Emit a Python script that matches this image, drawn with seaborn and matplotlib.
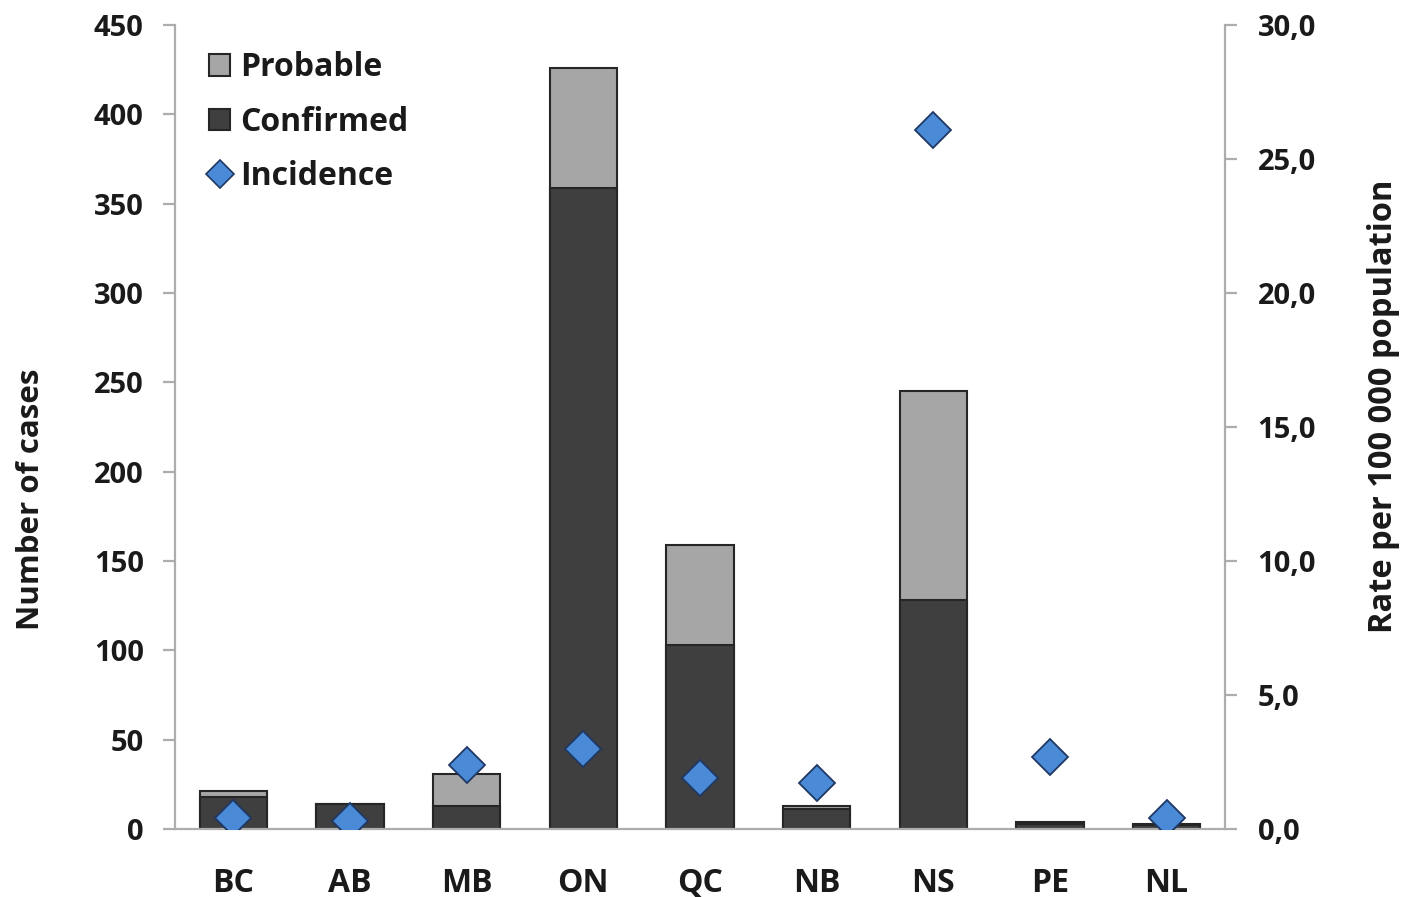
import matplotlib
matplotlib.use("Agg")
import matplotlib.pyplot as plt
import seaborn as sns
import numpy as np
import pandas as pd
from matplotlib.patches import Patch
from matplotlib.lines import Line2D
from matplotlib.ticker import FuncFormatter, FixedLocator

provinces = ["BC", "AB", "MB", "ON", "QC", "NB", "NS", "PE", "NL"]
confirmed = [18, 14, 13, 359, 103, 11, 128, 3, 2]
probable = [3, 0, 18, 67, 56, 2, 117, 1, 1]
incidence = [0.4, 0.3, 2.4, 3.0, 1.9, 1.7, 26.1, 2.7, 0.4]
left_ticks = [0, 50, 100, 150, 200, 250, 300, 350, 400, 450]
right_ticks = [0, 5, 10, 15, 20, 25, 30]

total = [c + p for c, p in zip(confirmed, probable)]
df = pd.DataFrame({"province": provinces, "confirmed": confirmed,
                   "total": total, "incidence": incidence})

sns.set_theme(style="white")
plt.rcParams["font.family"] = ["Open Sans", "DejaVu Sans"]
plt.rcParams["font.weight"] = "bold"

C_PROB = "#A6A6A6"
C_CONF = "#3F3F3F"
C_EDGE = "#262626"
C_INC = "#4A8AD6"
C_INC_EDGE = "#1F3864"
C_AXIS = "#ADADAD"
C_TEXT = "#1A1A1A"

fig = plt.figure(figsize=(14.04, 8.97), dpi=100)
ax = fig.add_axes([175/1404, 1-829/897, 1050/1404, 804/897])

sns.barplot(data=df, x="province", y="total", color=C_PROB, width=0.575,
            edgecolor=C_EDGE, linewidth=1.5, saturation=1, ax=ax, errorbar=None)
sns.barplot(data=df, x="province", y="confirmed", color=C_CONF, width=0.575,
            edgecolor=C_EDGE, linewidth=1.5, saturation=1, ax=ax, errorbar=None)

ax.set_ylim(0, 450)
ax.yaxis.set_major_locator(FixedLocator(left_ticks))
ax.set_xlim(-0.5, len(provinces) - 0.5)
ax.set_xlabel("")
ax.set_ylabel("")

ax2 = ax.twinx()
sns.pointplot(data=df, x="province", y="incidence", ax=ax2, color=C_INC,
              markers="D", linestyle="none", markersize=18,
              markeredgecolor=C_INC_EDGE, markeredgewidth=1.3, errorbar=None)
ax2.set_ylim(0, 30)
ax2.yaxis.set_major_locator(FixedLocator(right_ticks))
ax2.yaxis.set_major_formatter(FuncFormatter(lambda v, p: f"{v:.1f}".replace(".", ",")))
ax2.set_xlim(-0.5, len(provinces) - 0.5)
ax2.set_ylabel("")
ax2.set_xlabel("")

for a in (ax, ax2):
    for s in a.spines.values():
        s.set_visible(False)
    a.grid(False)

ax.spines["left"].set_visible(True)
ax.spines["bottom"].set_visible(True)
ax2.spines["right"].set_visible(True)
for s in (ax.spines["left"], ax.spines["bottom"], ax2.spines["right"]):
    s.set_color(C_AXIS)
    s.set_linewidth(1.6)

ax.tick_params(axis="y", which="major", direction="out", length=8.5, width=1.6,
               color=C_AXIS, labelsize=21, labelcolor=C_TEXT, pad=14, left=True)
ax.tick_params(axis="x", length=0, labelsize=23, labelcolor=C_TEXT, pad=27)
ax2.tick_params(axis="y", which="major", direction="out", length=8.5, width=1.6,
                color=C_AXIS, labelsize=21, labelcolor=C_TEXT, pad=15, right=True)
for lab in ax.get_xticklabels() + ax.get_yticklabels() + ax2.get_yticklabels():
    lab.set_fontweight("bold")

fig.text(31/1404, 1-499/897, "Number of cases", rotation=90, ha="center",
         va="center", fontsize=22.5, fontweight="bold", color=C_TEXT)
fig.text(1383/1404, 1-406/897, "Rate per 100 000 population", rotation=90,
         ha="center", va="center", fontsize=23.5, fontweight="bold", color=C_TEXT)

handles = [
    Patch(facecolor=C_PROB, edgecolor=C_EDGE, linewidth=1.5, label="Probable"),
    Patch(facecolor=C_CONF, edgecolor=C_EDGE, linewidth=1.5, label="Confirmed"),
    Line2D([], [], marker="D", linestyle="none", markersize=14,
           markerfacecolor=C_INC, markeredgecolor=C_INC_EDGE,
           markeredgewidth=1.2, label="Incidence"),
]
leg = ax2.legend(handles=handles, loc="upper left",
                 bbox_to_anchor=(209/1404, 1-51/897),
                 bbox_transform=fig.transFigure, frameon=False,
                 fontsize=23, handlelength=0.66, handleheight=0.66,
                 handletextpad=0.32, labelspacing=0.68, borderpad=0,
                 borderaxespad=0)
for t in leg.get_texts():
    t.set_fontweight("bold")
    t.set_color(C_TEXT)

fig.savefig("out.png", dpi=100)
